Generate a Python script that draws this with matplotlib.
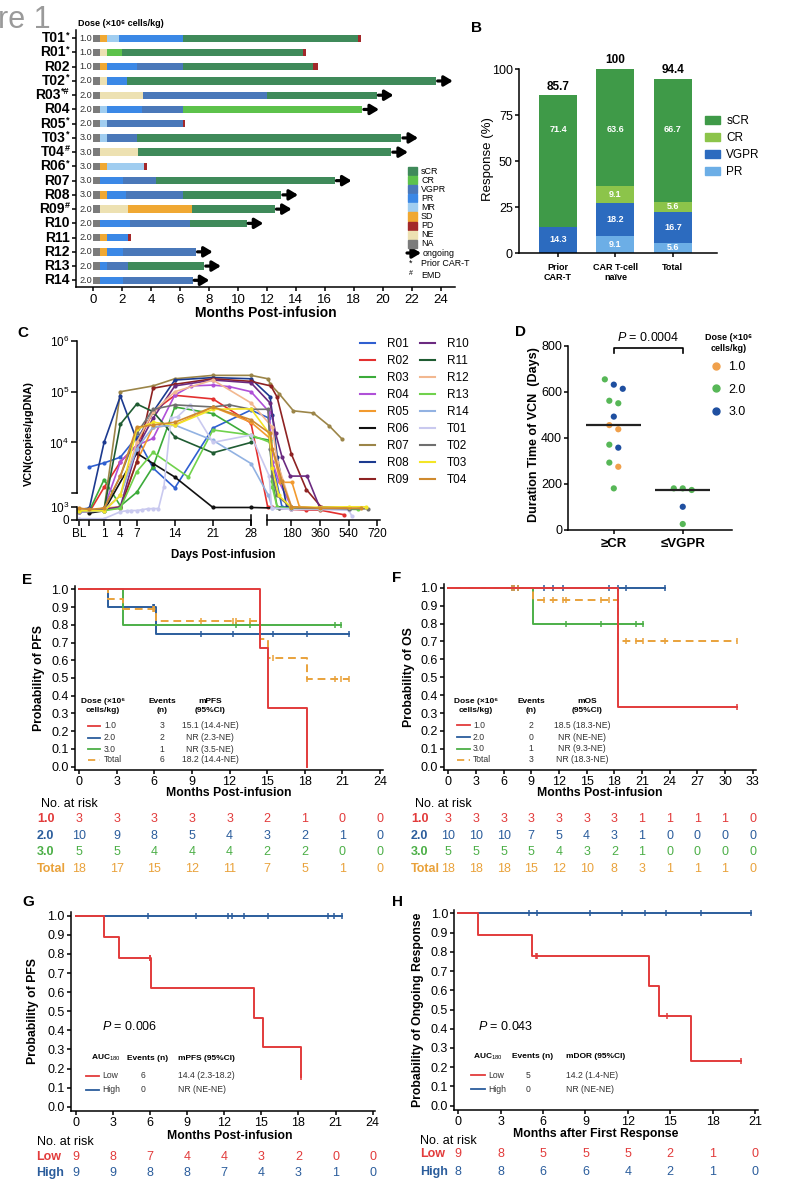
import numpy as np
import matplotlib
matplotlib.use("Agg")
import matplotlib.pyplot as plt
from matplotlib.lines import Line2D
from matplotlib.patches import Rectangle, Patch
from matplotlib.transforms import blended_transform_factory, offset_copy

plt.rcParams["font.family"] = ["Liberation Sans", "DejaVu Sans"]
plt.rcParams["mathtext.fontset"] = "custom"
plt.rcParams["mathtext.rm"] = "Liberation Sans"
plt.rcParams["mathtext.it"] = "Liberation Sans:italic"
plt.rcParams["mathtext.bf"] = "Liberation Sans:bold"
plt.rcParams["axes.linewidth"] = 1.1
plt.rcParams["xtick.major.width"] = 1.1
plt.rcParams["ytick.major.width"] = 1.1
plt.rcParams["xtick.major.size"] = 3
plt.rcParams["ytick.major.size"] = 3

W, H = 786, 1200

# ---------------- A: swimmer plot ----------------
a_patients = ["T01", "R01", "R02", "T02", "R03", "R04", "R05", "T03", "T04",
              "R06", "R07", "R08", "R09", "R10", "R11", "R12", "R13", "R14"]
a_marks = ["*", "*", "", "*", "*#", "", "*", "*", "#", "*", "", "", "#", "", "", "", "", ""]
a_dose = [1.0, 1.0, 1.0, 2.0, 2.0, 2.0, 2.0, 3.0, 3.0, 3.0, 3.0, 3.0, 2.0, 2.0, 2.0, 2.0, 2.0, 2.0]
a_ongoing = [False, False, False, True, True, True, False, True, True,
             False, True, True, True, True, False, True, True, True]
a_responses = [
    ["NA", "SD", "MR", "PR", "sCR", "PD"],
    ["NA", "NE", "CR", "sCR", "PD"],
    ["NA", "SD", "PR", "VGPR", "sCR", "PD"],
    ["NA", "NE", "PR", "sCR"],
    ["NA", "NE", "VGPR", "sCR"],
    ["NA", "MR", "PR", "VGPR", "CR"],
    ["NA", "MR", "VGPR", "PD"],
    ["NA", "MR", "VGPR", "sCR"],
    ["NA", "NE", "sCR"],
    ["NA", "SD", "MR", "PD"],
    ["NA", "PR", "VGPR", "sCR"],
    ["NA", "SD", "PR", "VGPR", "sCR"],
    ["NA", "NE", "SD", "sCR"],
    ["NA", "PR", "VGPR", "sCR"],
    ["NA", "SD", "PR", "PD"],
    ["NA", "SD", "PR", "VGPR"],
    ["NA", "PR", "VGPR", "sCR"],
    ["NA", "PR", "VGPR"],
]
a_months = [
    [0, 0.46, 0.97, 1.77, 6.2, 18.3, 18.5],
    [0, 0.46, 0.92, 1.96, 14.47, 14.7],
    [0, 0.46, 0.92, 3.0, 6.2, 15.2, 15.5],
    [0, 0.46, 0.92, 2.3, 23.7],
    [0, 0.46, 3.46, 11.98, 19.6],
    [0, 0.46, 0.92, 3.34, 6.2, 18.6],
    [0, 0.46, 0.92, 6.17, 6.36],
    [0, 0.46, 0.92, 3.0, 21.3],
    [0, 0.46, 3.1, 20.6],
    [0, 0.46, 0.92, 3.5, 3.7],
    [0, 0.46, 2.07, 4.33, 16.7],
    [0, 0.46, 0.92, 2.26, 6.2, 13.0],
    [0, 0.46, 2.37, 6.8, 12.56],
    [0, 0.46, 2.5, 6.7, 10.6],
    [0, 0.46, 0.92, 2.37, 2.58],
    [0, 0.46, 0.92, 2.07, 7.1],
    [0, 0.46, 0.92, 2.37, 7.67],
    [0, 0.46, 2.07, 6.87],
]

# ---------------- B: response ----------------
b_groups = ["Prior\nCAR-T", "CAR T-cell\nnaïve", "Total"]
b_pr = [0.0, 9.1, 5.6]
b_vgpr = [14.3, 18.2, 16.7]
b_cr = [0.0, 9.1, 5.6]
b_scr = [71.4, 63.6, 66.7]
b_orr = ["85.7", "100", "94.4"]

# ---------------- C: VCN kinetics ----------------
c_R01_day = [-1.7, 1, 4, 7, 10, 14, 21, 28, 40, 60, 120, 180, 360, 540]
c_R01_vcn = [4150, 4800, 5900, 12800, 4000, 1960, 19200, 43600, 30000, 5000, 1000, 950, 900, 850]
c_R02_day = [-3.6, -1.7, 1, 4, 7, 10, 14, 21, 28, 30, 60, 180, 270, 360, 510]
c_R02_vcn = [700, 600, 2000, 5000, 9000, 40000, 85000, 72000, 24000, 1000, 950, 800, 750, 750, 400]
c_R03_day = [-3.6, -1.7, 1, 4, 7, 10, 14, 21, 28, 45, 60, 90, 180, 360, 540]
c_R03_vcn = [800, 700, 2650, 1030, 1680, 4200, 50000, 37000, 13000, 11000, 2500, 1000, 900, 850, 800]
c_R04_day = [-3.6, -1.7, 1, 4, 7, 10, 14, 17, 21, 24, 28, 40, 60, 100, 180, 360]
c_R04_vcn = [600, 700, 900, 5000, 9000, 12000, 86000, 130000, 135000, 126000, 100000, 40000, 5000, 2500, 1000, 900]
c_R05_day = [-3.6, -1.7, 1, 4, 7, 10, 14, 21, 28, 45, 110, 183, 230, 360]
c_R05_vcn = [800, 700, 900, 1000, 5000, 20000, 22000, 50000, 25000, 12000, 2400, 2400, 1000, 900]
c_R06_day = [-1.7, 1, 7, 10, 14, 21, 28, 100]
c_R06_vcn = [530, 700, 6800, 4700, 2900, 950, 950, 900]
c_R07_day = [-3.6, 1, 4, 10, 14, 21, 28, 32, 47, 104, 192, 318, 419, 500]
c_R07_vcn = [700, 800, 100000, 130000, 180000, 210000, 210000, 180000, 140000, 90000, 42000, 38000, 21000, 11500]
c_R08_day = [-3.6, -1.7, 1, 4, 7, 10, 14, 21, 28, 45, 60, 90, 150, 180, 360, 540]
c_R08_vcn = [800, 900, 10000, 82000, 11000, 40000, 170000, 190000, 180000, 80000, 35000, 6000, 1000, 950, 900, 850]
c_R09_day = [-3.6, 1, 4, 7, 10, 14, 21, 28, 50, 89, 179, 274, 366, 540]
c_R09_vcn = [600, 800, 900, 5000, 117000, 140000, 180000, 160000, 130000, 79000, 6600, 1850, 1000, 900]
c_R10_day = [-3.6, 1, 4, 7, 10, 14, 21, 28, 45, 80, 120, 173, 278, 356, 540]
c_R10_vcn = [700, 800, 1000, 8000, 30000, 130000, 170000, 150000, 60000, 15000, 6000, 3000, 3000, 1000, 900]
c_R11_day = [-3.6, 1, 4, 7, 10, 14, 21, 28]
c_R11_vcn = [700, 800, 22900, 57300, 40400, 12900, 6900, 10000]
c_R12_day = [-3.6, 1, 4, 7, 10, 14, 21, 28, 60, 90, 180, 360]
c_R12_vcn = [800, 800, 1500, 10000, 40000, 100000, 170000, 60000, 20000, 5000, 1000, 900]
c_R13_day = [-3.6, 1, 4, 7, 10, 16.5, 21, 28, 45, 60, 90, 180, 360, 600]
c_R13_vcn = [700, 700, 900, 3500, 7000, 2900, 17600, 14000, 10000, 2000, 950, 900, 850, 800]
c_R14_day = [-3.6, 1, 4, 7, 10, 14, 21, 28, 35, 60, 180, 540]
c_R14_vcn = [600, 700, 1500, 8000, 20000, 22000, 11000, 4700, 1500, 900, 850, 800]
c_T01_day = [-3.6, 1, 4, 5.2, 6, 7, 8, 9, 10, 11, 12, 13.3, 14.5, 16.8, 21, 28, 40, 55, 180, 360, 540, 560]
c_T01_vcn = [100, 100, 630, 700, 720, 720, 780, 850, 870, 870, 2050, 30000, 32000, 55000, 10000, 14000, 3000, 900, 800, 800, 750, 300]
c_T02_day = [-3.6, 1, 4, 7, 10, 14, 21, 24, 28, 32, 45, 60, 90, 180, 540, 660]
c_T02_vcn = [700, 800, 3000, 15000, 45000, 55000, 50000, 55000, 45000, 45000, 8000, 3000, 1500, 900, 850, 850]
c_T03_day = [-3.6, 1, 4, 7, 10, 14, 21, 28, 40, 60, 100, 180, 540, 650]
c_T03_vcn = [700, 700, 1500, 18000, 25000, 22000, 45000, 46000, 15000, 4000, 1500, 950, 1000, 1000]
c_T04_day = [-3.6, -1.7, 1, 4, 7, 10, 14, 21, 28, 45, 60, 120, 180, 360, 620]
c_T04_vcn = [900, 800, 900, 3000, 20000, 22000, 25000, 50000, 28000, 15000, 8000, 2500, 1000, 900, 900]

c_names = ["R01", "R02", "R03", "R04", "R05", "R06", "R07", "R08", "R09",
           "R10", "R11", "R12", "R13", "R14", "T01", "T02", "T03", "T04"]
c_days = [c_R01_day, c_R02_day, c_R03_day, c_R04_day, c_R05_day, c_R06_day, c_R07_day, c_R08_day, c_R09_day,
          c_R10_day, c_R11_day, c_R12_day, c_R13_day, c_R14_day, c_T01_day, c_T02_day, c_T03_day, c_T04_day]
c_vcn = [c_R01_vcn, c_R02_vcn, c_R03_vcn, c_R04_vcn, c_R05_vcn, c_R06_vcn, c_R07_vcn, c_R08_vcn, c_R09_vcn,
         c_R10_vcn, c_R11_vcn, c_R12_vcn, c_R13_vcn, c_R14_vcn, c_T01_vcn, c_T02_vcn, c_T03_vcn, c_T04_vcn]

# ---------------- D: VCN duration ----------------
d_cr_days = [655, 632, 614, 562, 551, 493, 456, 438, 371, 358, 293, 275, 181]
d_cr_dose = [2.0, 3.0, 3.0, 2.0, 2.0, 3.0, 1.0, 1.0, 2.0, 3.0, 2.0, 1.0, 2.0]
d_vgpr_days = [181, 181, 174, 101, 26]
d_vgpr_dose = [2.0, 2.0, 2.0, 3.0, 2.0]

# ---------------- E: PFS by dose (months, 1 = event) ----------------
pfs_d1_t = [14.4, 15.1, 18.2]
pfs_d1_e = [1, 1, 1]
pfs_d2_t = [2.3, 5.9, 6.0, 6.0, 6.1, 9.7, 12.3, 15.5, 18.2, 21.5]
pfs_d2_e = [1, 0, 0, 0, 1, 0, 0, 0, 0, 0]
pfs_d3_t = [3.5, 12.5, 13.6, 20.4, 20.9]
pfs_d3_e = [1, 0, 0, 0, 0]

# ---------------- F: OS by dose ----------------
os_d1_t = [18.4, 18.4, 31.3]
os_d1_e = [1, 1, 0]
os_d2_t = [6.9, 7.1, 7.6, 10.4, 11.4, 12.4, 17.4, 18.4, 19.3, 23.5]
os_d2_e = [0, 0, 0, 0, 0, 0, 0, 0, 0, 0]
os_d3_t = [9.2, 12.8, 16.5, 20.4, 21.1]
os_d3_e = [1, 0, 0, 0, 0]

# ---------------- G: PFS by AUC180 ----------------
g_low_t = [2.3, 3.5, 6.0, 6.0, 6.1, 14.4, 15.1, 18.2, 18.2]
g_low_e = [1, 1, 0, 0, 1, 1, 1, 1, 0]
g_high_t = [5.8, 9.7, 12.3, 12.6, 13.6, 15.5, 20.4, 20.9, 21.5]
g_high_e = [0, 0, 0, 0, 0, 0, 0, 0, 0]

# ---------------- H: DOR by AUC180 ----------------
h_low_t = [1.4, 5.2, 5.5, 5.6, 13.5, 14.2, 14.8, 16.5, 20.0]
h_low_e = [1, 1, 0, 0, 1, 1, 0, 1, 0]
h_high_t = [5.0, 5.6, 9.3, 11.6, 13.2, 14.7, 17.2, 20.7]
h_high_e = [0, 0, 0, 0, 0, 0, 0, 0]

# ---------------- styles ----------------
RESP_COLORS = {"sCR": "#3f8a5a", "CR": "#5dc24b", "VGPR": "#4a78b9", "PR": "#3b88e6",
               "MR": "#a0cdf0", "SD": "#f0a832", "PD": "#a3282a", "NE": "#ede1b2", "NA": "#7b7b7b"}
C_COLORS = ["#2f5fd0", "#e3302f", "#3cab3a", "#b050d8", "#f29a2e", "#111111", "#9b8548", "#1c3a8f", "#8e2222",
            "#6b2a80", "#1f5c32", "#f2b890", "#70d24c", "#92b2e2", "#c9c9ef", "#6f6f6f", "#f3e526", "#cf8a2e"]
DOSE_COLORS = {1.0: "#f0a04b", 2.0: "#57b757", 3.0: "#1f4fa0"}
RED, BLUE, GREEN, ORANGE = "#e23b3b", "#2b5d9c", "#4caf47", "#e9a23b"
DASH = (0, (4, 2.5))
ARROW = dict(arrowstyle="-|>,head_length=0.5,head_width=0.3", lw=2.3, color="black",
             shrinkA=0, shrinkB=0, mutation_scale=10)

fig = plt.figure(figsize=(W / 100, H / 100), dpi=100)


def add_ax(l, t, r, b):
    return fig.add_axes([l / W, 1 - b / H, (r - l) / W, (b - t) / H])


def ftext(x, y, s, **kw):
    kw.setdefault("va", "center")
    return fig.text(x / W, 1 - y / H, s, **kw)


def xlab(ax, s, x, y, **kw):
    ax.set_xlabel(s, **kw)
    ax.xaxis.set_label_coords(x / W, 1 - y / H, transform=fig.transFigure)
    ax.xaxis.label.set_va("center")


def ylab(ax, s, x, y, **kw):
    ax.set_ylabel(s, **kw)
    ax.yaxis.set_label_coords(x / W, 1 - y / H, transform=fig.transFigure)
    ax.yaxis.label.set_va("center")


def clean(ax):
    ax.spines["top"].set_visible(False)
    ax.spines["right"].set_visible(False)


def km_curve(times, events):
    t = np.asarray(times, float)
    e = np.asarray(events, int)
    xs, ys, cx, cy = [0.0], [1.0], [], []
    s, n = 1.0, len(t)
    for ut in np.unique(t):
        at = t == ut
        d = int(e[at].sum())
        c = int(at.sum()) - d
        if d:
            s *= (n - d) / n
            xs.append(ut)
            ys.append(s)
        cx += [ut] * c
        cy += [s] * c
        n -= int(at.sum())
    xs.append(t.max())
    ys.append(s)
    return xs, ys, cx, cy


def draw_km(ax, times, events, color, ls="-"):
    xs, ys, cx, cy = km_curve(times, events)
    ax.step(xs, ys, where="post", color=color, lw=1.4, ls=ls, clip_on=False)
    ax.plot(cx, cy, ls="none", marker="|", ms=5, mew=1.1, color=color, clip_on=False)


def km_axes(ax, xmax, step, xlim, ylim):
    clean(ax)
    ax.set_xlim(*xlim)
    ax.set_ylim(*ylim)
    ax.set_xticks(np.arange(0, xmax + 0.1, step))
    ax.set_yticks(np.round(np.arange(0, 1.01, 0.1), 1))
    ax.set_yticklabels([f"{v:.1f}" for v in np.arange(0, 1.01, 0.1)])
    ax.tick_params(labelsize=9, pad=1.5)


def at_risk(ax, groups, names, colors, ticks, row_y, name_x, head_x, head_y):
    tr = blended_transform_factory(ax.transData, fig.transFigure)
    ftext(head_x, head_y, "No. at risk", fontsize=9, ha="left")
    for t, name, col, y in zip(groups, names, colors, row_y):
        ftext(name_x, y, name, fontsize=9, fontweight="bold", color=col, ha="left")
        for tk in ticks:
            n = int(np.sum(np.asarray(t) >= tk))
            ax.text(tk, 1 - y / H, str(n), transform=tr, fontsize=9, color=col,
                    ha="center", va="center", clip_on=False)


def key_row(y, color, ls, label, events, value, xl0, xl1, xlabel, xev, xval, val_ha):
    fig.add_artist(Line2D([xl0 / W, xl1 / W], [1 - y / H] * 2, color=color, lw=1.3, ls=ls))
    ftext(xlabel, y, label, fontsize=6.2, ha="left", color="#333333")
    ftext(xev, y, str(events), fontsize=6.2, ha="center", color="#333333")
    ftext(xval, y, value, fontsize=6.2, ha=val_ha, color="#333333")


# ================= Panel A =================
ftext(-2, 20, "re 1", fontsize=22, color="#9a9a9a", ha="left")
axA = add_ax(76, 30, 455, 287)
clean(axA)
for i, (resp, cuts) in enumerate(zip(a_responses, a_months)):
    for j, r in enumerate(resp):
        axA.barh(i, cuts[j + 1] - cuts[j], left=cuts[j], height=0.52, color=RESP_COLORS[r], lw=0)
    if a_ongoing[i]:
        axA.annotate("", xy=(cuts[-1] + 1.15, i), xytext=(cuts[-1] + 0.1, i), arrowprops=ARROW)
    axA.text(-0.95, i, f"{a_dose[i]:.1f}", fontsize=6.6, color="#333333", ha="left", va="center")
axA.set_xlim(-1.2, 25)
axA.set_ylim(17.47, -0.58)
axA.set_xticks(np.arange(0, 25, 2))
axA.set_yticks(np.arange(len(a_patients)))
axA.set_yticklabels([])
axA.tick_params(axis="x", labelsize=9.5, pad=2)

# row labels: bold name followed by small raised marks, right-aligned next to the axis
renderer = fig.canvas.get_renderer()
row_tr = blended_transform_factory(fig.transFigure, axA.transData)
mark_tr = offset_copy(row_tr, fig=fig, y=3.5, units="dots")
for i, (p, m) in enumerate(zip(a_patients, a_marks)):
    w = 0.0
    if m:
        mt = fig.text(69.5 / W, i, m, transform=mark_tr, fontsize=6.5, fontweight="bold",
                      ha="right", va="center")
        w = mt.get_window_extent(renderer).width
    fig.text((69.5 - w) / W, i, p, transform=row_tr, fontsize=10, fontweight="bold",
             ha="right", va="center")

xlab(axA, "Months Post-infusion", 266, 313, fontsize=10, fontweight="bold")
ftext(78, 24, "Dose (×10⁶ cells/kg)", fontsize=6.5, fontweight="bold", ha="left")
for k, r in enumerate(["sCR", "CR", "VGPR", "PR", "MR", "SD", "PD", "NE", "NA"]):
    y = 171 + k * 9.1
    fig.add_artist(Rectangle((408 / W, 1 - (y + 4) / H), 9 / W, 8 / H, color=RESP_COLORS[r],
                             transform=fig.transFigure))
    ftext(421, y, r, fontsize=6.4)
axA.annotate("", xy=(421 / W, 1 - 253 / H), xytext=(407 / W, 1 - 253 / H), xycoords="figure fraction",
             textcoords="figure fraction", arrowprops=ARROW)
ftext(423, 253, "ongoing", fontsize=6.4)
ftext(411, 263, "*", fontsize=6.4, ha="center")
ftext(421, 264, "Prior CAR-T", fontsize=6.4)
ftext(411, 274, "#", fontsize=5, ha="center")
ftext(421, 275, "EMD", fontsize=6.4)

# ================= Panel B =================
ftext(477, 28, "B", fontsize=11, fontweight="bold", ha="center")
axB = add_ax(519, 69, 717, 253)
clean(axB)
xb = np.arange(len(b_groups))
bottom = np.zeros(len(b_groups))
b_cols = {"PR": "#6caee6", "VGPR": "#2c6bbf", "CR": "#8cc44a", "sCR": "#3f9a48"}
for name, vals in [("PR", b_pr), ("VGPR", b_vgpr), ("CR", b_cr), ("sCR", b_scr)]:
    vals = np.asarray(vals)
    axB.bar(xb, vals, width=0.66, bottom=bottom, color=b_cols[name], lw=0)
    for xi, v, b0 in zip(xb, vals, bottom):
        if v > 0:
            ymid = 67 if name == "sCR" else b0 + v / 2
            axB.text(xi, ymid, f"{v:.1f}", color="white", fontsize=6.5, fontweight="bold",
                     ha="center", va="center")
    bottom = bottom + vals
for xi, top, lab in zip(xb, bottom, b_orr):
    axB.text(xi, top + 1.5, lab, ha="center", va="bottom", fontsize=8.5, fontweight="bold", clip_on=False)
axB.set_ylim(0, 100)
axB.set_xlim(-0.68, 2.77)
axB.set_yticks([0, 25, 50, 75, 100])
axB.set_xticks(xb)
axB.set_xticklabels(b_groups, fontsize=6.5, fontweight="bold")
axB.tick_params(axis="y", labelsize=9, pad=1.5)
axB.tick_params(axis="x", pad=4)
ylab(axB, "Response (%)", 488, 159, fontsize=9.5)
axB.legend([Patch(color=b_cols[k]) for k in ["sCR", "CR", "VGPR", "PR"]], ["sCR", "CR", "VGPR", "PR"],
           loc="upper left", bbox_to_anchor=(705 / W, 1 - 115 / H), bbox_transform=fig.transFigure,
           frameon=False, fontsize=8.5, handlelength=1.3, handleheight=0.7, labelspacing=0.42,
           handletextpad=0.5, borderpad=0, borderaxespad=0)

# ================= Panel C =================
ftext(23, 333, "C", fontsize=11, fontweight="bold", ha="center")


def c_fwd_y(v):
    v = np.asarray(v, float)
    lg = np.log10(np.clip(v, 1.0, None))
    return np.where(v < 1000, 2.47 + 0.26 * v / 1000, np.where(v < 1e4, 2.73 + (lg - 3) * 1.27, lg))


def c_inv_y(u):
    u = np.asarray(u, float)
    uu = np.clip(u, None, 12)
    return np.where(u < 2.73, (u - 2.47) / 0.26 * 1000,
                    np.where(u < 4, 10 ** (3 + (uu - 2.73) / 1.27), 10 ** uu))


def c_fwd_x(d):
    d = np.asarray(d, float)
    return np.where(d <= 28, d, 31 + (d - 28) * 0.0292)


def c_inv_x(u):
    u = np.asarray(u, float)
    return np.where(u <= 28, u, np.where(u < 31, 28, 28 + (u - 31) / 0.0292))


axC = add_ax(76.7, 341, 380, 520)
axC.set_xscale("function", functions=(c_fwd_x, c_inv_x))
axC.set_yscale("function", functions=(c_fwd_y, c_inv_y))
for name, dd, vv, col in zip(c_names, c_days, c_vcn, C_COLORS):
    axC.plot(dd, vv, color=col, lw=1.2, marker="o", ms=2, label=name)
axC.set_xlim(-4.03, 737)
axC.set_ylim(0, 1e6)
for s in axC.spines.values():
    s.set_visible(False)
ytr = axC.get_yaxis_transform()
xtr = axC.get_xaxis_transform()
axC.plot([0, 0], [1630, 1e6], transform=ytr, color="k", lw=1.1, clip_on=False)
axC.plot([-0.015, 0], [1630, 1630], transform=ytr, color="k", lw=1.1, clip_on=False)
axC.plot([0, 0], [0, 1000], transform=ytr, color="k", lw=1.1, clip_on=False)
axC.plot([-4.03, 28], [0, 0], transform=xtr, color="k", lw=1.1, clip_on=False)
axC.plot([28.001, 737], [0, 0], transform=xtr, color="k", lw=1.1, clip_on=False)
for xb_ in (28, 28.001):
    axC.plot([xb_, xb_], [-0.03, 0.03], transform=xtr, color="k", lw=1.1, clip_on=False)
axC.set_xticks([-3.6, -1.7, 1, 4, 7, 14, 21, 28, 180, 360, 540, 720])
axC.set_xticklabels(["BL", "", "1", "4", "7", "14", "21", "28", "180", "360", "540", "720"])
axC.xaxis.set_minor_locator(matplotlib.ticker.NullLocator())
axC.yaxis.set_minor_locator(matplotlib.ticker.NullLocator())
axC.set_yticks([0, 1e3, 1e4, 1e5, 1e6])
axC.set_yticklabels(["0", "10$^3$", "10$^4$", "10$^5$", "10$^6$"])
axC.tick_params(labelsize=8.5, length=4, pad=1.5)
xlab(axC, "Days Post-infusion", 223, 555, fontsize=8.3, fontweight="bold")
ylab(axC, "VCN(copies/μgDNA)", 29, 434, fontsize=7.8, fontweight="bold")
axC.legend([Line2D([], [], color=c, lw=1.5) for c in C_COLORS], c_names, ncol=2, loc="upper left",
           bbox_to_anchor=(360 / W, 1 - 338 / H), bbox_transform=fig.transFigure, frameon=False,
           fontsize=8.5, handlelength=1.3, handletextpad=1.0, columnspacing=0.9, labelspacing=0.42,
           borderpad=0, borderaxespad=0)

# ================= Panel D =================
ftext(520, 332, "D", fontsize=11, fontweight="bold", ha="center")
axD = add_ax(568.3, 346, 731.7, 530)
clean(axD)


def swarm_offsets(vals, gap=30.0, step=0.13):
    vals = np.asarray(vals, float)
    order = np.argsort(-vals, kind="stable")
    offs = np.zeros(len(vals))
    clusters, cur = [], [order[0]]
    for a, b in zip(order[:-1], order[1:]):
        if vals[a] - vals[b] < gap:
            cur.append(b)
        else:
            clusters.append(cur)
            cur = [b]
    clusters.append(cur)
    for cl in clusters:
        for i, idx in enumerate(cl):
            offs[idx] = (i - (len(cl) - 1) / 2) * step
    return offs


for xi, vals, doses in [(0, d_cr_days, d_cr_dose), (1, d_vgpr_days, d_vgpr_dose)]:
    offs = swarm_offsets(vals)
    axD.scatter(xi + offs, vals, s=20, c=[DOSE_COLORS[d] for d in doses], lw=0, zorder=3)
    axD.hlines(np.median(vals), xi - 0.4, xi + 0.4, color="#222222", lw=1.6, zorder=4)
axD.plot([0, 0, 1, 1], [768, 792, 792, 768], color="k", lw=1.2, clip_on=False)
axD.text(0.5, 835, "$P$ = 0.0004", ha="center", va="center", fontsize=9)
axD.set_xlim(-0.66, 1.71)
axD.set_ylim(0, 800)
axD.set_xticks([0, 1])
axD.set_xticklabels(["≥CR", "≤VGPR"], fontsize=9.5, fontweight="bold")
axD.set_yticks(np.arange(0, 801, 200))
axD.tick_params(axis="y", labelsize=9, pad=1.5)
axD.tick_params(axis="x", pad=3)
ylab(axD, "Duration Time of VCN  (Days)", 534, 435, fontsize=9, fontweight="bold")
ftext(729, 343, "Dose (×10⁶\ncells/kg)", fontsize=6.5, fontweight="bold", ha="center", linespacing=1.2)
axD.legend([Line2D([], [], ls="none", marker="o", ms=5, color=DOSE_COLORS[d]) for d in (1.0, 2.0, 3.0)],
           ["1.0", "2.0", "3.0"], loc="upper left", bbox_to_anchor=(711 / W, 1 - 361 / H),
           bbox_transform=fig.transFigure, frameon=False, fontsize=9, handlelength=0.8,
           handletextpad=0.6, labelspacing=0.85, borderpad=0, borderaxespad=0)

# ================= Panel E =================
ftext(27, 580, "E", fontsize=11, fontweight="bold", ha="center")
axE = add_ax(75, 585.8, 383, 770.2)
km_axes(axE, 24, 3, (-0.32, 24.24), (-0.02, 1.02))
pfs_all_t = pfs_d1_t + pfs_d2_t + pfs_d3_t
pfs_all_e = pfs_d1_e + pfs_d2_e + pfs_d3_e
draw_km(axE, pfs_d2_t, pfs_d2_e, BLUE)
draw_km(axE, pfs_d3_t, pfs_d3_e, GREEN)
draw_km(axE, pfs_all_t, pfs_all_e, ORANGE, DASH)
draw_km(axE, pfs_d1_t, pfs_d1_e, RED)
xlab(axE, "Months Post-infusion", 229, 793, fontsize=8.8, fontweight="bold")
ylab(axE, "Probability of PFS", 39, 678, fontsize=8.8, fontweight="bold")
for x, s in [(103, "Dose (×10⁶\ncells/kg)"), (162, "Events\n(n)"), (210, "mPFS\n(95%CI)")]:
    ftext(x, 706, s, fontsize=6, fontweight="bold", ha="center", linespacing=1.3)
for y, col, ls, lab, (t, e), val in [(726, RED, "-", "1.0", (pfs_d1_t, pfs_d1_e), "15.1 (14.4-NE)"),
                                     (737.7, BLUE, "-", "2.0", (pfs_d2_t, pfs_d2_e), "NR (2.3-NE)"),
                                     (749, GREEN, "-", "3.0", (pfs_d3_t, pfs_d3_e), "NR (3.5-NE)"),
                                     (760, ORANGE, DASH, "Total", (pfs_all_t, pfs_all_e), "18.2 (14.4-NE)")]:
    key_row(y, col, ls, lab, sum(e), val, 88, 100, 104, 162, 210, "center")
at_risk(axE, [pfs_d1_t, pfs_d2_t, pfs_d3_t, pfs_all_t], ["1.0", "2.0", "3.0", "Total"],
        [RED, BLUE, GREEN, ORANGE], np.arange(0, 25, 3), [819, 835.7, 852.3, 869], 37, 41, 804)

# ================= Panel F =================
ftext(397, 578, "F", fontsize=11, fontweight="bold", ha="center")
axF = add_ax(444, 584.1, 756, 770)
km_axes(axF, 33, 3, (-0.47, 33.36), (-0.018, 1.02))
os_all_t = os_d1_t + os_d2_t + os_d3_t
os_all_e = os_d1_e + os_d2_e + os_d3_e
draw_km(axF, os_d2_t, os_d2_e, BLUE)
draw_km(axF, os_d3_t, os_d3_e, GREEN)
draw_km(axF, os_all_t, os_all_e, ORANGE, DASH)
draw_km(axF, os_d1_t, os_d1_e, RED)
xlab(axF, "Months Post-infusion", 600, 793, fontsize=8.8, fontweight="bold")
ylab(axF, "Probability of OS", 409, 677, fontsize=8.8, fontweight="bold")
for x, s in [(476, "Dose (×10⁶\ncells/kg)"), (531, "Events\n(n)"), (587, "mOS\n(95%CI)")]:
    ftext(x, 706, s, fontsize=6, fontweight="bold", ha="center", linespacing=1.3)
for y, col, ls, lab, (t, e), val in [(725, RED, "-", "1.0", (os_d1_t, os_d1_e), "18.5 (18.3-NE)"),
                                     (737, BLUE, "-", "2.0", (os_d2_t, os_d2_e), "NR (NE-NE)"),
                                     (748.5, GREEN, "-", "3.0", (os_d3_t, os_d3_e), "NR (9.3-NE)"),
                                     (760, ORANGE, DASH, "Total", (os_all_t, os_all_e), "NR (18.3-NE)")]:
    key_row(y, col, ls, lab, sum(e), val, 457, 470, 473, 531, 582, "center")
at_risk(axF, [os_d1_t, os_d2_t, os_d3_t, os_all_t], ["1.0", "2.0", "3.0", "Total"],
        [RED, BLUE, GREEN, ORANGE], np.arange(0, 34, 3), [819, 835.7, 852.3, 869], 411, 415, 804)

# ================= Panel G =================
ftext(28, 902, "G", fontsize=11, fontweight="bold", ha="center")
axG = add_ax(71, 911.9, 375, 1111)
km_axes(axG, 24, 3, (-0.40, 24.19), (-0.0225, 1.02))
draw_km(axG, g_high_t, g_high_e, BLUE)
draw_km(axG, g_low_t, g_low_e, RED)
xlab(axG, "Months Post-infusion", 230, 1136, fontsize=8.8, fontweight="bold")
ylab(axG, "Probability of PFS", 33, 1011, fontsize=8.8, fontweight="bold")
ftext(102, 1026, "$P$ = 0.006", fontsize=9, ha="left")
ftext(91, 1058, "AUC$_{180}$", fontsize=6, fontweight="bold", ha="left")
ftext(127, 1058, "Events (n)", fontsize=6, fontweight="bold", ha="left")
ftext(178, 1058, "mPFS (95%CI)", fontsize=6, fontweight="bold", ha="left")
key_row(1076, RED, "-", "Low", sum(g_low_e), "14.4 (2.3-18.2)", 86, 99, 102, 143, 178, "left")
key_row(1090, BLUE, "-", "High", sum(g_high_e), "NR (NE-NE)", 86, 99, 102, 143, 178, "left")
at_risk(axG, [g_low_t, g_high_t], ["Low", "High"], [RED, BLUE], np.arange(0, 25, 3),
        [1157, 1173], 36, 37, 1142)

# ================= Panel H =================
ftext(397, 902, "H", fontsize=11, fontweight="bold", ha="center")
axH = add_ax(454.3, 909.5, 758.3, 1110)
km_axes(axH, 21, 3, (-0.28, 21.23), (-0.0225, 1.02))
draw_km(axH, h_high_t, h_high_e, BLUE)
draw_km(axH, h_low_t, h_low_e, RED)
xlab(axH, "Months after First Response", 596, 1134, fontsize=8.8, fontweight="bold")
ylab(axH, "Probability of Ongoing Response", 418, 1010, fontsize=8.8, fontweight="bold")
ftext(478, 1026, "$P$ = 0.043", fontsize=9, ha="left")
ftext(473, 1057, "AUC$_{180}$", fontsize=6, fontweight="bold", ha="left")
ftext(512, 1057, "Events (n)", fontsize=6, fontweight="bold", ha="left")
ftext(566, 1057, "mDOR (95%CI)", fontsize=6, fontweight="bold", ha="left")
key_row(1075, RED, "-", "Low", sum(h_low_e), "14.2 (1.4-NE)", 471, 485, 488, 528, 566, "left")
key_row(1089, BLUE, "-", "High", sum(h_high_e), "NR (NE-NE)", 471, 485, 488, 528, 566, "left")
at_risk(axH, [h_low_t, h_high_t], ["Low", "High"], [RED, BLUE], np.arange(0, 22, 3),
        [1154, 1172], 420, 420, 1141)

fig.savefig("out.png", dpi=100)
